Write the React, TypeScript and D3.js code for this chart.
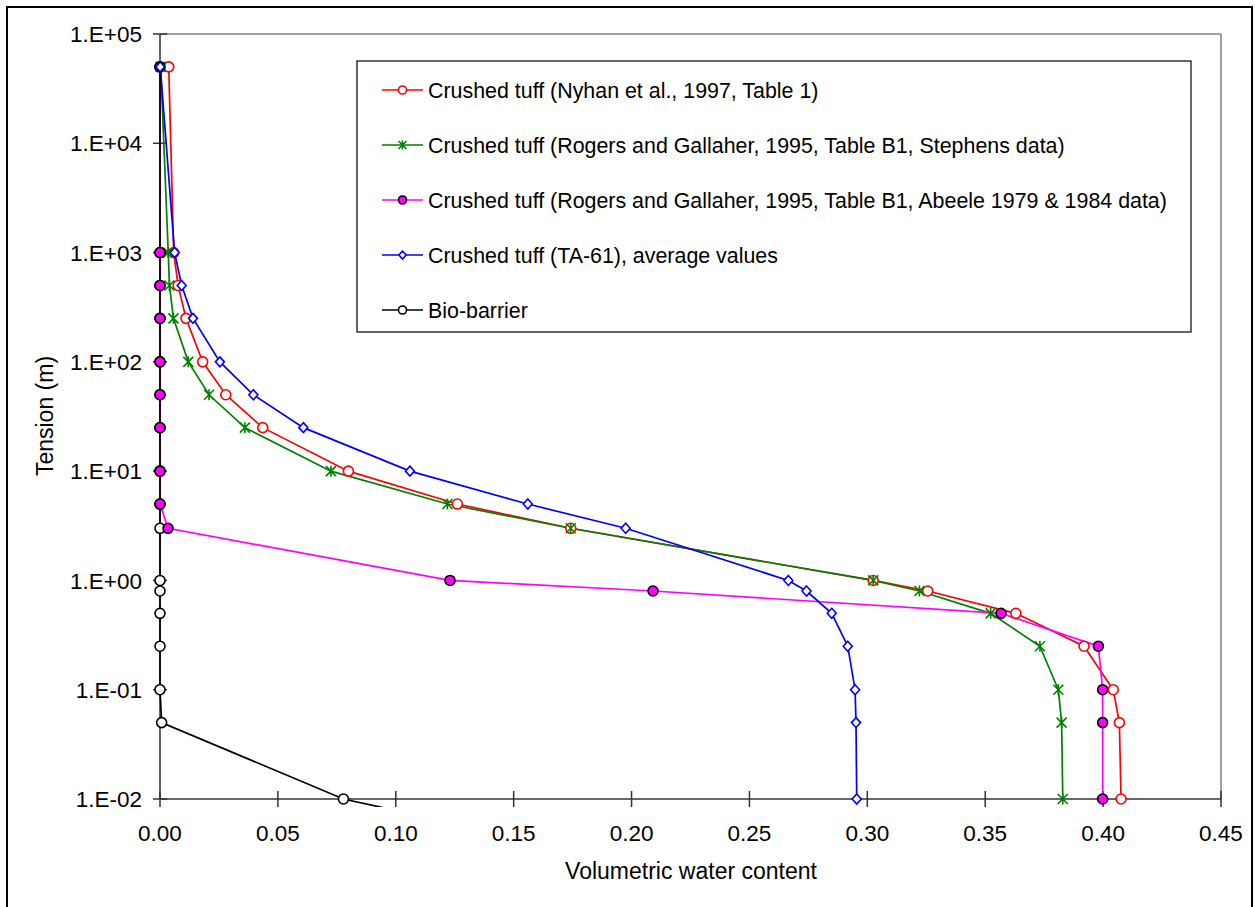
import React from "react";
import * as d3 from "d3";

const tensions = [50000, 1000, 500, 250, 100, 50, 25, 10, 5, 3, 1, 0.8, 0.5, 0.25, 0.1, 0.05, 0.01];
const nyhan = [0.0037, 0.0058, 0.0077, 0.011, 0.0181, 0.0279, 0.0436, 0.0799, 0.1261, 0.1742, 0.3025, 0.3256, 0.363, 0.3919, 0.4043, 0.4069, 0.4076];
const stephens = [0.0003, 0.0035, 0.004, 0.0057, 0.012, 0.0208, 0.036, 0.0725, 0.1219, 0.1742, 0.3025, 0.3221, 0.3523, 0.3732, 0.381, 0.3824, 0.3829];
const abeele = [0, 0, 0, 0, 0, 0, 0, 0, 0, 0.0034, 0.123, 0.2091, 0.3567, 0.398, 0.3998, 0.3998, 0.3998];
const ta61 = [0.0001, 0.0062, 0.0092, 0.014, 0.0254, 0.0396, 0.0608, 0.106, 0.156, 0.1975, 0.2665, 0.2742, 0.2849, 0.2917, 0.2948, 0.2952, 0.2955];
const bioTensions = [50000, 1000, 500, 250, 100, 50, 25, 10, 5, 3, 1, 0.8, 0.5, 0.25, 0.1, 0.05, 0.01, 0.001];
const bioBarrier = [0, 0, 0, 0, 0, 0, 0, 0, 0, 0, 0, 0, 0, 0, 0, 0.0007, 0.0778, 0.29];

const xTicks = [0, 0.05, 0.1, 0.15, 0.2, 0.25, 0.3, 0.35, 0.4, 0.45];
const yTicks = [1e5, 1e4, 1e3, 1e2, 1e1, 1, 0.1, 0.01];
const yTickLabels = ["1.E+05", "1.E+04", "1.E+03", "1.E+02", "1.E+01", "1.E+00", "1.E-01", "1.E-02"];

const seriesNames = [
  "Crushed tuff (Nyhan et al., 1997, Table 1)",
  "Crushed tuff (Rogers and Gallaher, 1995, Table B1, Stephens data)",
  "Crushed tuff (Rogers and Gallaher, 1995, Table B1, Abeele 1979 & 1984 data)",
  "Crushed tuff (TA-61), average values",
  "Bio-barrier",
];

const FONT = "'Liberation Sans', Arial, sans-serif";

type Marker = "circle" | "star" | "dot" | "diamond" | "ocircle";

const series = [
  { name: seriesNames[0], t: tensions, v: nyhan, color: "#FF0000", marker: "circle" as Marker },
  { name: seriesNames[1], t: tensions, v: stephens, color: "#008000", marker: "star" as Marker },
  { name: seriesNames[2], t: tensions, v: abeele, color: "#FF00FF", marker: "dot" as Marker },
  { name: seriesNames[3], t: tensions, v: ta61, color: "#0000FF", marker: "diamond" as Marker },
  { name: seriesNames[4], t: bioTensions, v: bioBarrier, color: "#000000", marker: "ocircle" as Marker },
];

function MarkerShape({ type, x, y, color, s }: { type: Marker; x: number; y: number; color: string; s: number }) {
  if (type === "circle" || type === "ocircle") {
    return <circle cx={x} cy={y} r={s} fill="white" stroke={color} strokeWidth={1.6} />;
  }
  if (type === "dot") {
    return <circle cx={x} cy={y} r={s} fill="#FF00FF" stroke="#000" strokeWidth={1.6} />;
  }
  if (type === "diamond") {
    return (
      <path
        d={`M${x},${y - s}L${x + s * 0.9},${y}L${x},${y + s}L${x - s * 0.9},${y}Z`}
        fill="white"
        stroke={color}
        strokeWidth={1.6}
      />
    );
  }
  return (
    <path
      d={`M${x - s},${y - s}L${x + s},${y + s}M${x - s},${y + s}L${x + s},${y - s}M${x},${y - s * 1.1}L${x},${y + s * 1.1}`}
      stroke={color}
      strokeWidth={1.6}
      fill="none"
    />
  );
}

export default function App() {
  const W = 1255;
  const H = 907;
  const left = 160, right = 1221, top = 34, bottom = 799;
  const x = d3.scaleLinear().domain([0, 0.45]).range([left, right]);
  const y = d3.scaleLog().domain([0.01, 1e5]).range([bottom, top]);

  const lineGen = (t: number[], v: number[]) =>
    d3.line<number>().x((d, i) => x(v[i])).y((d, i) => y(t[i]))(t.map((_, i) => i)) || "";

  const legendX = 357, legendY = 61, legendW = 834, legendH = 271;
  const legendRows = [90, 145, 200, 255, 310];

  return (
    <svg
      width={W}
      height={H}
      style={{ position: "absolute", left: 0, top: 0, background: "white" }}
      fontFamily={FONT}
    >
      <rect x={0} y={0} width={W} height={H} fill="white" />
      <rect x={7} y={7} width={1245} height={910} fill="none" stroke="#000" strokeWidth={2} />
      <defs>
        <clipPath id="plotclip">
          <rect x={left - 6} y={top - 6} width={right - left + 12} height={bottom - top + 14} />
        </clipPath>
      </defs>
      <line x1={left} y1={top} x2={right} y2={top} stroke="#808080" strokeWidth={1.5} />
      <line x1={right} y1={top} x2={right} y2={bottom} stroke="#808080" strokeWidth={1.5} />
      <line x1={left} y1={top} x2={left} y2={bottom} stroke="#333" strokeWidth={1.5} />
      <line x1={left} y1={bottom} x2={right} y2={bottom} stroke="#333" strokeWidth={1.5} />
      {yTicks.map((t, i) => (
        <g key={"yt" + i}>
          <line x1={left - 7} x2={left + 7} y1={y(t)} y2={y(t)} stroke="#333" strokeWidth={1.5} />
          <text x={142} y={y(t)} dy="0.36em" textAnchor="end" fontSize={22.5} fill="#000">
            {yTickLabels[i]}
          </text>
        </g>
      ))}
      {xTicks.map((v, i) => (
        <g key={"xt" + i}>
          <line x1={x(v)} x2={x(v)} y1={bottom - 8} y2={bottom + 8} stroke="#333" strokeWidth={1.5} />
          <text x={x(v)} y={840.5} textAnchor="middle" fontSize={22.5} fill="#000">
            {v.toFixed(2)}
          </text>
        </g>
      ))}
      <text x={691} y={879} textAnchor="middle" fontSize={23} fill="#000">
        Volumetric water content
      </text>
      <text transform={`translate(53,416) rotate(-90)`} textAnchor="middle" fontSize={23} fill="#000">
        Tension (m)
      </text>

      <g clipPath="url(#plotclip)">
        {series.map((s, i) => (
          <path key={"l" + i} d={lineGen(s.t, s.v)} fill="none" stroke={s.color} strokeWidth={1.7} />
        ))}
      </g>
      {[4, 0, 1, 2, 3].map((si) => {
        const s = series[si];
        return (
          <g key={"m" + si}>
            {s.t.map((t, i) =>
              y(t) <= bottom + 1 ? (
                <MarkerShape key={i} type={s.marker} x={x(s.v[i])} y={y(t)} color={s.color} s={5} />
              ) : null
            )}
          </g>
        );
      })}

      <rect x={legendX} y={legendY} width={legendW} height={legendH} fill="white" stroke="#000" strokeWidth={1.2} />
      {series.map((s, i) => (
        <g key={"lg" + i}>
          <line x1={382} x2={423} y1={legendRows[i]} y2={legendRows[i]} stroke={s.color} strokeWidth={1.7} />
          <MarkerShape type={s.marker} x={402.5} y={legendRows[i]} color={s.color} s={4} />
          <text x={428} y={legendRows[i]} dy="0.36em" fontSize={21.4} fill="#000">
            {s.name}
          </text>
        </g>
      ))}
    </svg>
  );
}
